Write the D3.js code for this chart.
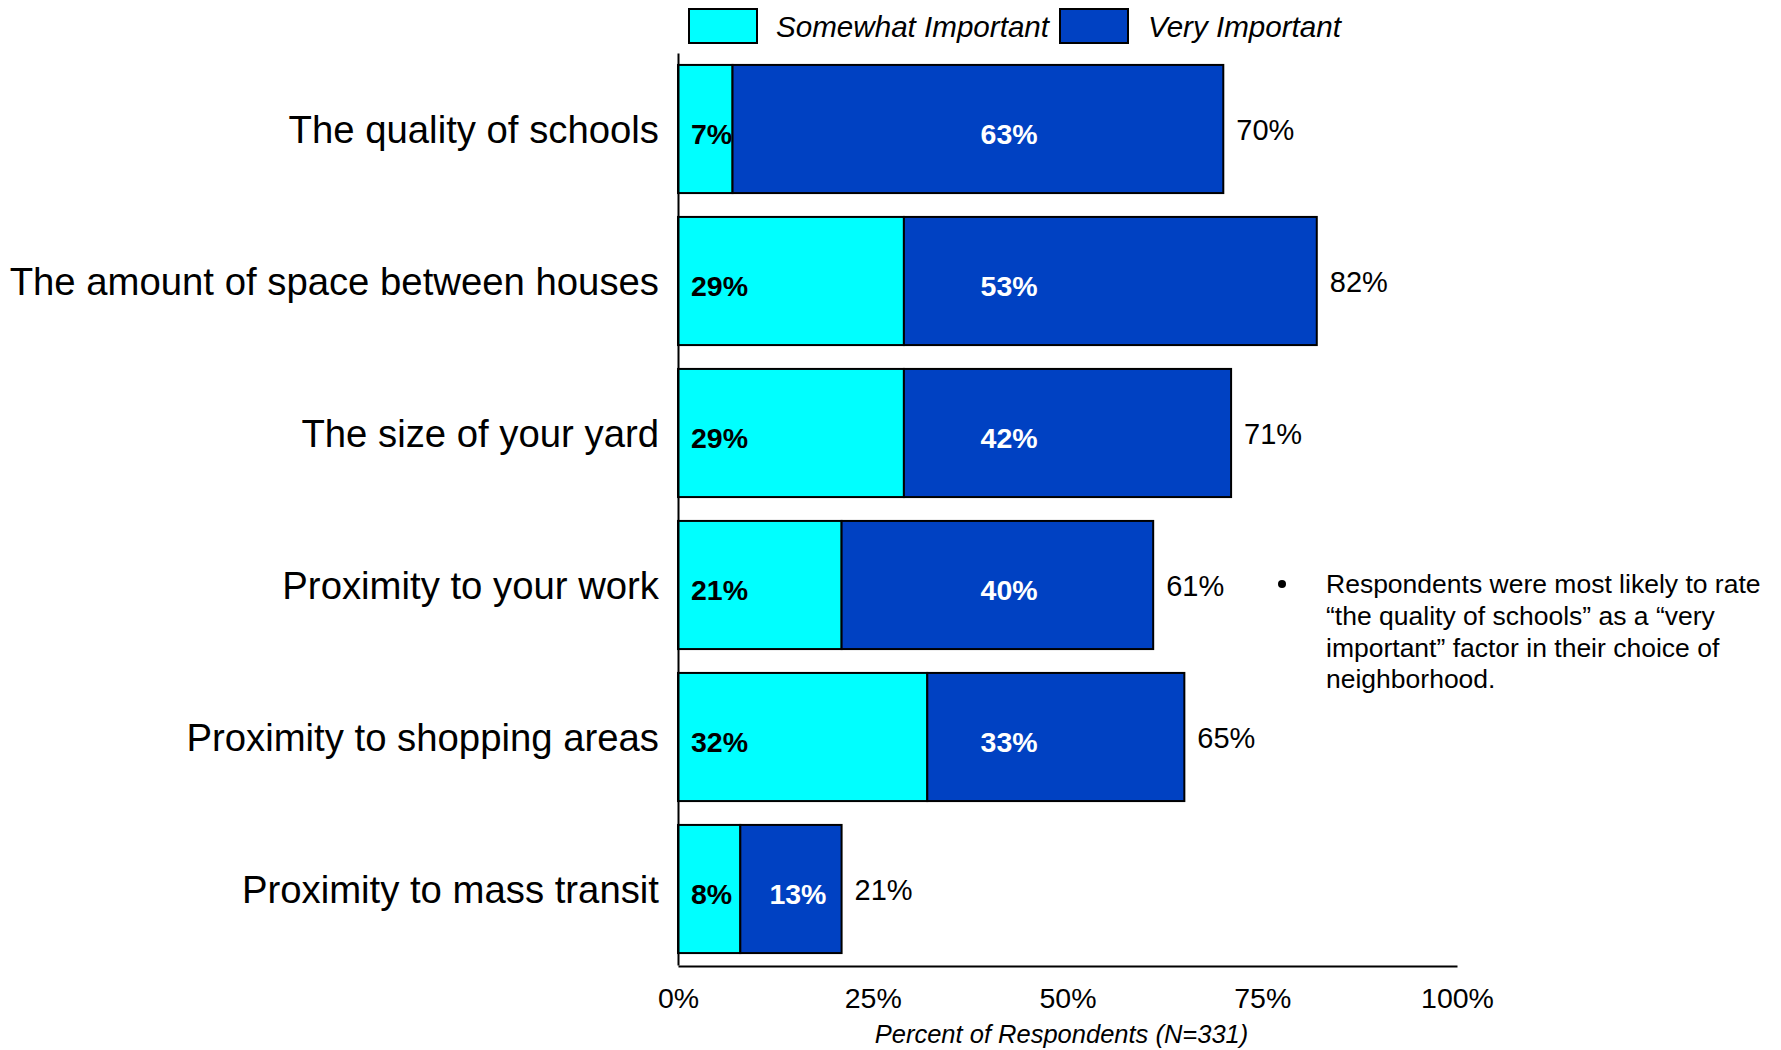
<!DOCTYPE html>
<html>
<head>
<meta charset="utf-8">
<script src="https://cdn.jsdelivr.net/npm/d3@7"></script>
<style>
  html, body { margin: 0; padding: 0; background: #fff; }
  svg { display: block; font-family: "Liberation Sans", Arial, sans-serif; }
</style>
</head>
<body>
<svg id="chart" width="1781" height="1050"></svg>
<script>
// Neighborhood choice factors, percent of respondents (N=331)
const categories = [
  "The quality of schools",
  "The amount of space between houses",
  "The size of your yard",
  "Proximity to your work",
  "Proximity to shopping areas",
  "Proximity to mass transit"
];
const somewhatImportant = [7, 29, 29, 21, 32, 8];
const veryImportant     = [63, 53, 42, 40, 33, 13];
const totals            = [70, 82, 71, 61, 65, 21];
const seriesNames = ["Somewhat Important", "Very Important"];
const tickValues = [0, 25, 50, 75, 100];
const axisTitle = "Percent of Respondents (N=331)";
const noteLines = [
  "Respondents were most likely to rate",
  "\u201Cthe quality of schools\u201D as a \u201Cvery",
  "important\u201D factor in their choice of",
  "neighborhood."
];

const colors = ["#00FFFF", "#0041C2"];

const svg = d3.select("#chart");
svg.append("rect").attr("width", 1781).attr("height", 1050).attr("fill", "#fff");

const x = d3.scaleLinear().domain([0, 100]).range([678, 1457]);
const y = d3.scaleBand().domain(categories).range([53, 965])
  .paddingInner(0.157).paddingOuter(0.0785);

const rows = categories.map((c, i) => ({
  cat: c, s: somewhatImportant[i], v: veryImportant[i], t: totals[i]
}));

// Stacked bar segments
const stack = d3.stack().keys(["s", "v"]);
const layers = stack(rows);

const g = svg.append("g");
layers.forEach((layer, li) => {
  g.selectAll(null).data(layer).join("rect")
    .attr("x", d => x(d[0]))
    .attr("y", d => y(d.data.cat))
    .attr("width", d => x(d[1]) - x(d[0]))
    .attr("height", y.bandwidth())
    .attr("fill", colors[li])
    .attr("stroke", "#000")
    .attr("stroke-width", 2);
});

// Value labels inside segments
const mid = d => y(d.cat) + y.bandwidth() / 2;
g.selectAll(null).data(rows).join("text")
  .attr("x", x(0) + 13)
  .attr("y", d => mid(d) + 15)
  .attr("font-size", 28.5).attr("font-weight", "bold").attr("fill", "#000")
  .text(d => d.s + "%");

// "Very important" labels share one column unless the segment is too short
const labelCol = 42.5;
g.selectAll(null).data(rows).join("text")
  .attr("x", d => (d.s < labelCol - 5 && d.s + d.v > labelCol + 5)
    ? x(labelCol)
    : (x(d.s) + x(d.s + d.v)) / 2 + 7)
  .attr("y", d => mid(d) + 15)
  .attr("text-anchor", "middle")
  .attr("font-size", 28.5).attr("font-weight", "bold").attr("fill", "#fff")
  .text(d => d.v + "%");

// Totals at bar ends
g.selectAll(null).data(rows).join("text")
  .attr("x", d => x(d.t) + 13)
  .attr("y", d => mid(d) + 11)
  .attr("font-size", 29).attr("fill", "#000")
  .text(d => d.t + "%");

// Category axis
const yAxis = svg.append("g")
  .attr("transform", `translate(${x(0)},0)`)
  .call(d3.axisLeft(y).tickSize(0).tickSizeOuter(0).tickPadding(19));
yAxis.select(".domain").attr("stroke", "#000").attr("stroke-width", 2);
yAxis.selectAll("text")
  .attr("font-size", 38.3).attr("fill", "#000")
  .attr("font-family", "'Liberation Sans', Arial, sans-serif")
  .attr("dy", "0.37em");

// Percent axis
const xAxis = svg.append("g")
  .attr("transform", `translate(0,966)`)
  .call(d3.axisBottom(x).tickValues(tickValues).tickSize(0).tickSizeOuter(0)
    .tickPadding(22).tickFormat(d => d + "%"));
xAxis.select(".domain").attr("stroke", "#000").attr("stroke-width", 2);
xAxis.selectAll("text")
  .attr("font-size", 28.5).attr("fill", "#000")
  .attr("font-family", "'Liberation Sans', Arial, sans-serif")
  .attr("dy", "0.71em");

svg.append("text")
  .attr("x", (x(0) + x(100)) / 2 - 6).attr("y", 1043)
  .attr("text-anchor", "middle")
  .attr("font-size", 25.5).attr("font-style", "italic").attr("fill", "#000")
  .text(axisTitle);

// Legend
const legendItems = [
  { name: seriesNames[0], color: colors[0], box: 689, text: 776 },
  { name: seriesNames[1], color: colors[1], box: 1060, text: 1148 }
];
const lg = svg.append("g");
lg.selectAll(null).data(legendItems).join("rect")
  .attr("x", d => d.box).attr("y", 9).attr("width", 68).attr("height", 34)
  .attr("fill", d => d.color).attr("stroke", "#000").attr("stroke-width", 2);
lg.selectAll(null).data(legendItems).join("text")
  .attr("x", d => d.text).attr("y", 37)
  .attr("font-size", 29.6).attr("font-style", "italic").attr("fill", "#000")
  .text(d => d.name);

// Side note
const note = svg.append("g");
note.append("circle").attr("cx", 1282).attr("cy", 584).attr("r", 4).attr("fill", "#000");
note.selectAll(null).data(noteLines).join("text")
  .attr("x", 1326).attr("y", (d, i) => 593 + i * 31.8)
  .attr("font-size", 26.5).attr("fill", "#000")
  .text(d => d);
</script>
</body>
</html>
